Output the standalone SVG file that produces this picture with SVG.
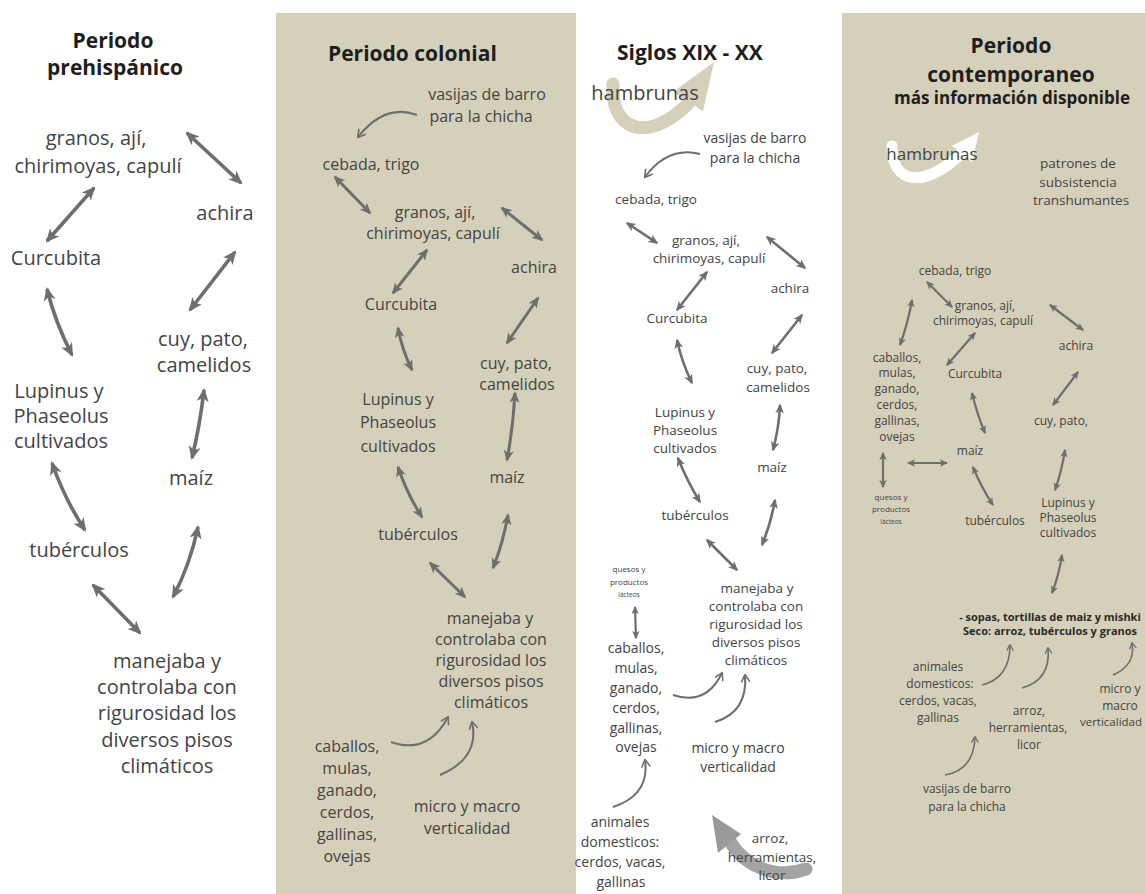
<svg xmlns="http://www.w3.org/2000/svg" width="1145" height="894" viewBox="0 0 1145 894">
<defs>
<style>
text{font-family:"Open Sans","Liberation Sans",sans-serif;fill:#444444;text-anchor:middle}
.h{font-weight:700;fill:#1e1e1e}
.p1{font-size:20px}
.p2{font-size:16px}
.p3{font-size:14px}
.p3s{font-size:13.5px}
.p4{font-size:12px}
.da{fill:none;stroke:#6e6e6e;marker-start:url(#dh);marker-end:url(#dh)}
.ca{fill:none;stroke:#6e6e6e;stroke-width:2;marker-end:url(#oh)}
</style>
<marker id="dh" viewBox="0 0 10 10" refX="8.5" refY="5" markerWidth="3.8" markerHeight="3.8" orient="auto-start-reverse" markerUnits="strokeWidth">
<path d="M0,0.6 L10,5 L0,9.4 L2.6,5 Z" fill="#6e6e6e"/>
</marker>
<marker id="oh" viewBox="0 0 10 10" refX="8" refY="5" markerWidth="5" markerHeight="5" orient="auto" markerUnits="strokeWidth">
<path d="M1.5,1 L8.5,5 L1.5,9" fill="none" stroke="#6e6e6e" stroke-width="1.6" stroke-linejoin="round" stroke-linecap="round"/>
</marker>
</defs>

<rect x="0" y="0" width="1145" height="894" fill="#ffffff"/>
<rect id="panel-colonial" x="276" y="13" width="300" height="881" fill="#d5d0b9"/>
<rect id="panel-contemporaneo" x="842" y="13" width="303" height="881" fill="#d5d0b9"/>

<!-- swooshes -->
<g id="swoosh-s3">
<path d="M613,84 C610,128 645,146 688,104" fill="none" stroke="#d5d0b9" stroke-width="13" stroke-linecap="round"/>
<polygon points="714,62 703,111 673,92" fill="#d5d0b9"/>
</g>
<g id="swoosh-s4">
<path d="M892,146 C892,185 925,190 965,150" fill="none" stroke="#ffffff" stroke-width="11" stroke-linecap="round"/>
<polygon points="979,132 972,162 952,146" fill="#ffffff"/>
</g>
<g id="swoosh-s3-bottom">
<path d="M806,869 C775,880 742,866 727,836" fill="none" stroke="#9a9a9a" stroke-width="13" stroke-linecap="round" opacity="0.9"/>
<polygon points="712,815 741,834 718,853" fill="#9a9a9a"/>
</g>

<!-- Panel 1 -->
<g id="title-prehispanico"><text class="h" x="113" y="48" font-size="21">Periodo</text><text class="h" x="115" y="75" font-size="21">prehispánico</text></g>
<g id="p1-granos" class="p1"><text x="96" y="145">granos, ají,</text><text x="98" y="173">chirimoyas, capulí</text></g>
<g id="p1-achira" class="p1"><text x="225" y="220">achira</text></g>
<g id="p1-curcubita" class="p1"><text x="56" y="265">Curcubita</text></g>
<g id="p1-cuy" class="p1"><text x="203" y="346">cuy, pato,</text><text x="204" y="372">camelidos</text></g>
<g id="p1-lupinus" class="p1"><text x="59" y="398">Lupinus y</text><text x="61" y="423">Phaseolus</text><text x="61" y="448">cultivados</text></g>
<g id="p1-maiz" class="p1"><text x="191" y="485">maíz</text></g>
<g id="p1-tuberculos" class="p1"><text x="79" y="557">tubérculos</text></g>
<g id="p1-manejaba" class="p1"><text x="167" y="668">manejaba y</text><text x="167" y="694">controlaba con</text><text x="167" y="720">rigurosidad los</text><text x="167" y="747">diversos pisos</text><text x="167" y="773">climáticos</text></g>

<!-- Panel 2 -->
<g id="title-colonial"><text class="h" x="328" y="61" font-size="21" style="text-anchor:start">Periodo colonial</text></g>
<g id="p2-vasijas" class="p2"><text x="487" y="100">vasijas de barro</text><text x="481" y="122">para la chicha</text></g>
<g id="p2-cebada" class="p2"><text x="371" y="170">cebada, trigo</text></g>
<g id="p2-granos" class="p2"><text x="435" y="218">granos, ají,</text><text x="433" y="239">chirimoyas, capulí</text></g>
<g id="p2-achira" class="p2"><text x="534" y="273">achira</text></g>
<g id="p2-curcubita" class="p2"><text x="401" y="310">Curcubita</text></g>
<g id="p2-cuy" class="p2"><text x="516" y="369">cuy, pato,</text><text x="517" y="390">camelidos</text></g>
<g id="p2-lupinus" class="p2"><text x="398" y="405">Lupinus y</text><text x="398" y="428">Phaseolus</text><text x="398" y="452">cultivados</text></g>
<g id="p2-maiz" class="p2"><text x="507" y="483">maíz</text></g>
<g id="p2-tuberculos" class="p2"><text x="418" y="540">tubérculos</text></g>
<g id="p2-manejaba" class="p2"><text x="490" y="624">manejaba y</text><text x="491" y="645">controlaba con</text><text x="491" y="666">rigurosidad los</text><text x="491" y="687">diversos pisos</text><text x="491" y="708">climáticos</text></g>
<g id="p2-caballos" class="p2"><text x="347" y="752">caballos,</text><text x="347" y="774">mulas,</text><text x="347" y="796">ganado,</text><text x="347" y="818">cerdos,</text><text x="347" y="840">gallinas,</text><text x="347" y="862">ovejas</text></g>
<g id="p2-micro" class="p2"><text x="467" y="812">micro y macro</text><text x="467" y="834">verticalidad</text></g>

<!-- Panel 3 -->
<g id="title-siglos"><text class="h" x="617" y="60" font-size="21" style="text-anchor:start">Siglos XIX - XX</text></g>
<g id="p3-hambrunas"><text x="645" y="100" font-size="20">hambrunas</text></g>
<g id="p3-vasijas" class="p3"><text x="755" y="143">vasijas de barro</text><text x="755" y="163">para la chicha</text></g>
<g id="p3-cebada" class="p3s"><text x="656" y="204">cebada, trigo</text></g>
<g id="p3-granos" class="p3s"><text x="706" y="245">granos, ají,</text><text x="709" y="263">chirimoyas, capulí</text></g>
<g id="p3-achira" class="p3s"><text x="790" y="293">achira</text></g>
<g id="p3-curcubita" class="p3s"><text x="677" y="323">Curcubita</text></g>
<g id="p3-cuy" class="p3s"><text x="777" y="373">cuy, pato,</text><text x="778" y="392">camelidos</text></g>
<g id="p3-lupinus" class="p3s"><text x="685" y="417">Lupinus y</text><text x="685" y="435">Phaseolus</text><text x="685" y="453">cultivados</text></g>
<g id="p3-maiz" class="p3s"><text x="772" y="472">maíz</text></g>
<g id="p3-tuberculos" class="p3s"><text x="695" y="520">tubérculos</text></g>
<g id="p3-manejaba" class="p3s"><text x="757" y="593">manejaba y</text><text x="756" y="611">controlaba con</text><text x="756" y="629">rigurosidad los</text><text x="756" y="647">diversos pisos</text><text x="756" y="665">climáticos</text></g>
<g id="p3-quesos"><text x="629" y="572" font-size="8">quesos y</text><text x="629" y="585" font-size="8">productos</text><text x="629" y="597" font-size="6.5">lácteos</text></g>
<g id="p3-caballos" class="p3"><text x="636" y="653">caballos,</text><text x="636" y="673">mulas,</text><text x="636" y="693">ganado,</text><text x="636" y="713">cerdos,</text><text x="636" y="733">gallinas,</text><text x="636" y="752">ovejas</text></g>
<g id="p3-micro" class="p3"><text x="738" y="753">micro y macro</text><text x="738" y="772">verticalidad</text></g>
<g id="p3-animales" class="p3"><text x="620" y="827">animales</text><text x="620" y="847">domesticos:</text><text x="620" y="867">cerdos, vacas,</text><text x="621" y="887">gallinas</text></g>
<g id="p3-arroz" class="p3s"><text x="770" y="843">arroz,</text><text x="772" y="862">herramientas,</text><text x="772" y="880">licor</text></g>

<!-- Panel 4 -->
<g id="title-contemporaneo"><text class="h" x="1011" y="53" font-size="21">Periodo</text><text class="h" x="1011" y="82" font-size="21">contemporaneo</text><text class="h" x="1012" y="104" font-size="17">más información disponible</text></g>
<g id="p4-hambrunas"><text x="932" y="160" font-size="17">hambrunas</text></g>
<g id="p4-patrones"><text x="1078" y="168" font-size="13.5">patrones de</text><text x="1078" y="187" font-size="13.5">subsistencia</text><text x="1081" y="205" font-size="13.5">transhumantes</text></g>
<g id="p4-cebada" class="p4"><text x="955" y="275">cebada, trigo</text></g>
<g id="p4-granos" class="p4"><text x="985" y="310">granos, ají,</text><text x="983" y="325">chirimoyas, capulí</text></g>
<g id="p4-achira" class="p4"><text x="1076" y="350">achira</text></g>
<g id="p4-caballos" class="p4"><text x="897" y="362">caballos,</text><text x="897" y="377">mulas,</text><text x="897" y="393">ganado,</text><text x="897" y="409">cerdos,</text><text x="897" y="425">gallinas,</text><text x="897" y="441">ovejas</text></g>
<g id="p4-curcubita" class="p4"><text x="975" y="378">Curcubita</text></g>
<g id="p4-cuy" class="p4"><text x="1061" y="425">cuy, pato,</text></g>
<g id="p4-maiz" class="p4"><text x="970" y="455">maíz</text></g>
<g id="p4-quesos"><text x="891" y="500" font-size="8">quesos y</text><text x="891" y="512" font-size="8">productos</text><text x="891" y="524" font-size="6.5">lácteos</text></g>
<g id="p4-tuberculos" class="p4"><text x="995" y="525">tubérculos</text></g>
<g id="p4-lupinus" class="p4"><text x="1068" y="507">Lupinus y</text><text x="1068" y="522">Phaseolus</text><text x="1068" y="537">cultivados</text></g>
<g id="p4-sopas"><text class="h" x="1050" y="621" font-size="11" style="fill:#2a2a2a">- sopas, tortillas de maiz y mishki</text><text class="h" x="1050" y="635" font-size="11" style="fill:#2a2a2a">Seco:  arroz, tubérculos y granos</text></g>
<g id="p4-animales" class="p4"><text x="938" y="671">animales</text><text x="940" y="688">domesticos:</text><text x="938" y="705">cerdos, vacas,</text><text x="938" y="722">gallinas</text></g>
<g id="p4-arroz" class="p4"><text x="1029" y="715">arroz,</text><text x="1028" y="732">herramientas,</text><text x="1029" y="749">licor</text></g>
<g id="p4-micro" class="p4"><text x="1120" y="693">micro y</text><text x="1120" y="710">macro</text><text x="1111" y="726" font-size="11.5">verticalidad</text></g>
<g id="p4-vasijas" class="p4"><text x="967" y="793">vasijas de barro</text><text x="967" y="811">para la chicha</text></g>

<!-- Connectors -->
<g id="connectors">
<g stroke-width="3.6">
<path class="da" d="M187,133 L241,183"/>
<path class="da" d="M94,188 L47,241"/>
<path class="da" d="M47,289 Q55,322 72,355"/>
<path class="da" d="M235,252 L190,310"/>
<path class="da" d="M204,390 Q200,425 192,458"/>
<path class="da" d="M52,463 Q65,500 85,530"/>
<path class="da" d="M198,527 Q190,565 173,597"/>
<path class="da" d="M93,585 L140,633"/>
</g>
<g stroke-width="3">
<path class="da" d="M335,177 L370,213"/>
<path class="da" d="M502,208 L542,240"/>
<path class="da" d="M427,250 L393,293"/>
<path class="da" d="M398,328 Q402,350 412,370"/>
<path class="da" d="M538,298 L507,343"/>
<path class="da" d="M515,393 Q513,428 507,460"/>
<path class="da" d="M398,467 Q407,494 422,517"/>
<path class="da" d="M508,515 Q503,543 493,568"/>
<path class="da" d="M430,563 L465,597"/>
</g>
<g stroke-width="2.6">
<path class="da" d="M627,223 L657,243"/>
<path class="da" d="M767,237 L805,268"/>
<path class="da" d="M707,272 L677,310"/>
<path class="da" d="M677,340 Q682,363 692,383"/>
<path class="da" d="M802,315 L772,353"/>
<path class="da" d="M780,405 Q779,428 773,450"/>
<path class="da" d="M678,458 Q687,481 700,502"/>
<path class="da" d="M775,500 Q771,523 762,545"/>
<path class="da" d="M707,540 L737,570"/>
<path class="da" d="M635,607 L636,638" style="stroke-width:2.2"/>
</g>
<g stroke-width="2.2">
<path class="da" d="M927,282 L952,307"/>
<path class="da" d="M1050,305 L1083,330"/>
<path class="da" d="M912,300 Q908,323 900,345"/>
<path class="da" d="M975,333 L947,365"/>
<path class="da" d="M1078,372 L1053,405"/>
<path class="da" d="M972,393 Q977,414 985,433"/>
<path class="da" d="M883,453 L883,487"/>
<path class="da" d="M908,463 L947,463"/>
<path class="da" d="M973,467 Q981,487 993,505"/>
<path class="da" d="M1065,450 Q1062,470 1055,490"/>
<path class="da" d="M1062,555 Q1059,575 1052,593"/>
</g>
<path class="ca" d="M417,115 Q385,103 358,137"/>
<path class="ca" d="M391,742 Q428,755 448,717"/>
<path class="ca" d="M440,775 Q480,758 472,722"/>
<path class="ca" d="M700,154 Q668,146 645,177"/>
<path class="ca" d="M673,695 Q706,706 722,673"/>
<path class="ca" d="M715,722 Q748,712 745,675"/>
<path class="ca" d="M613,807 Q650,795 645,760"/>
<path class="ca" d="M982,685 Q1010,678 1010,645" style="stroke-width:1.6"/>
<path class="ca" d="M1022,688 Q1051,680 1048,648" style="stroke-width:1.6"/>
<path class="ca" d="M1113,675 Q1136,665 1132,643" style="stroke-width:1.6"/>
<path class="ca" d="M945,775 Q974,770 975,737" style="stroke-width:1.6"/>
</g>
</svg>
